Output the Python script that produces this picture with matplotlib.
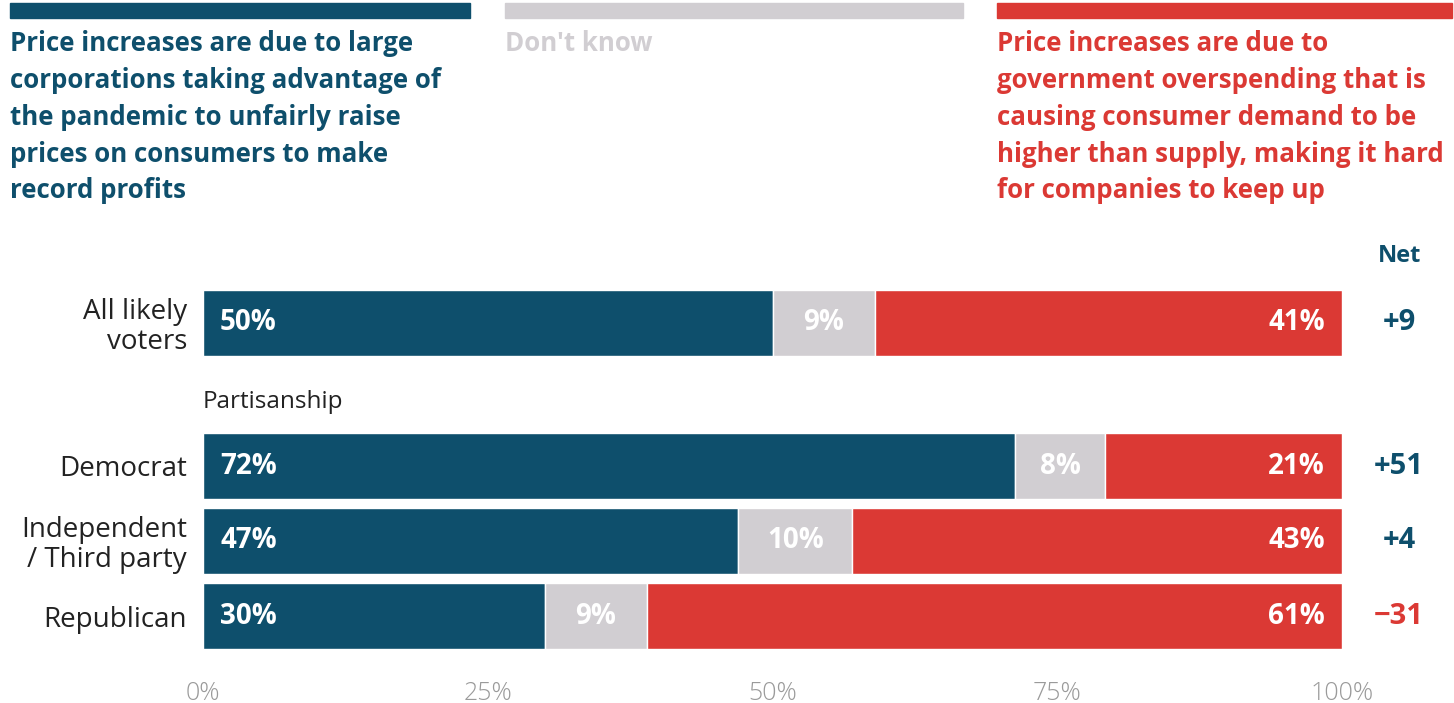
import matplotlib.pyplot as plt
from matplotlib.patches import Rectangle
from matplotlib.transforms import blended_transform_factory

# survey data
groups = ['All likely\nvoters', 'Democrat', 'Independent\n/ Third party', 'Republican']
corporations = [50, 72, 47, 30]
dont_know = [9, 8, 10, 9]
overspending = [41, 21, 43, 61]
net = [9, 51, 4, -31]

ticks = [0, 25, 50, 75, 100]
tick_labels = ['0%', '25%', '50%', '75%', '100%']

legend_labels = [
    'Price increases are due to large\ncorporations taking advantage of\n'
    'the pandemic to unfairly raise\nprices on consumers to make\nrecord profits',
    "Don't know",
    'Price increases are due to\ngovernment overspending that is\n'
    'causing consumer demand to be\nhigher than supply, making it hard\n'
    'for companies to keep up',
]

BLUE = '#0e4f6c'
GRAY = '#d1ced2'
RED = '#db3934'
colors = [BLUE, GRAY, RED]

FONT = 'Open Sans'
W, H = 1454, 703

# row layout (units of one row step)
row_y = [0, 1.907, 2.907, 3.907]
subhead_y = 1.05
bar_h = 0.88

fig = plt.figure(figsize=(W / 100, H / 100), dpi=100)
ax = fig.add_axes([203 / W, (H - 660) / H, (1342 - 203) / W, 410 / H])

for i, y in enumerate(row_y):
    vals = [corporations[i], dont_know[i], overspending[i]]
    total = sum(vals)
    parts = [v / total * 100 for v in vals]
    left = 0
    for j, (p, v) in enumerate(zip(parts, vals)):
        ax.barh(y, p, left=left, height=bar_h, color=colors[j],
                edgecolor='white', linewidth=1)
        label = f'{v}%'
        if j == 0:
            x, ha = left + 1.5, 'left'
        elif j == 1:
            x, ha = left + p / 2, 'center'
        else:
            x, ha = left + p - 1.5, 'right'
        ax.text(x, y, label, ha=ha, va='center', color='white',
                fontsize=20, fontweight='bold', family=FONT)
        left += p

ax.set_xlim(0, 100)
ax.set_ylim(-0.973 + 410 / 75, -0.973)
ax.set_yticks(row_y)
ax.set_yticklabels(groups, family=FONT, fontsize=20, color='#222222',
                   linespacing=1.05)
ax.tick_params(axis='y', length=0, pad=11.5)
ax.set_xticks(ticks)
ax.set_xticklabels(tick_labels, family=FONT, fontsize=18, fontweight='light',
                   color='#9a9a9a')
ax.tick_params(axis='x', length=0, pad=15)
for s in ax.spines.values():
    s.set_visible(False)

ax.text(0, subhead_y, 'Partisanship', ha='left', va='center',
        fontsize=17.5, color='#222222', family=FONT)

# net column
tr = blended_transform_factory(fig.transFigure, ax.transData)
ax.text(1400 / W, -0.89, 'Net', transform=tr, ha='center', va='center',
        fontsize=17, fontweight='bold', color=BLUE, family=FONT)
for y, n in zip(row_y, net):
    txt = f'+{n}' if n > 0 else f'\u2212{abs(n)}'
    ax.text(1399 / W, y, txt, transform=tr, ha='center', va='center',
            fontsize=21, fontweight='bold', color=BLUE if n > 0 else RED,
            family=FONT)

# legend blocks across the top
legend_x = [10, 505, 997]
legend_w = [460, 458, 455]
for x, w, c, lab in zip(legend_x, legend_w, colors, legend_labels):
    fig.patches.append(Rectangle((x / W, 1 - 18 / H), w / W, 15 / H,
                                 transform=fig.transFigure, color=c))
    fig.text(x / W, 1 - 30 / H, lab, ha='left', va='top', fontsize=18.6,
             fontweight='bold', color=c, family=FONT, linespacing=1.47)

fig.savefig('out.png', dpi=100)
